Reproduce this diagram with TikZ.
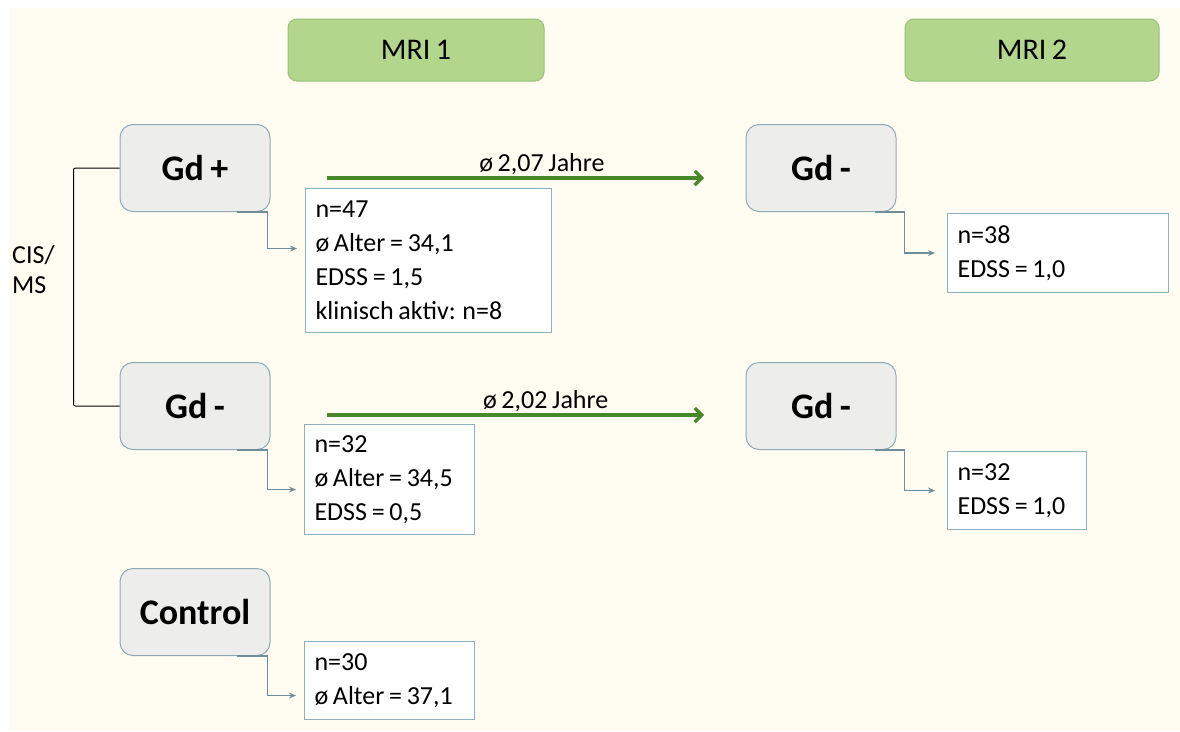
\documentclass[tikz,border=0pt]{standalone}
\usepackage{fontspec}
\setmainfont{Carlito}[WordSpace=0.8]
\usepackage{tikz}
\usetikzlibrary{arrows.meta}
\definecolor{cream}{HTML}{FFFDF2}
\definecolor{mrigreen}{HTML}{B1D68C}
\definecolor{mriedge}{HTML}{98BF78}
\definecolor{grpfill}{HTML}{EDEDEC}
\definecolor{grpedge}{HTML}{8FAAB6}
\definecolor{infoedge}{HTML}{8FB1BF}
\definecolor{connblue}{HTML}{6F8C99}
\definecolor{timegreen}{HTML}{478828}

\begin{document}
\begin{tikzpicture}[x=1pt,y=-1pt,
    txt/.style={font=\fontsize{26}{34}\selectfont},
    mri/.style={draw=mriedge,fill=mrigreen,rounded corners=9pt,line width=1pt,minimum height=62pt,font=\fontsize{30}{34}\selectfont},
    group/.style={draw=grpedge,fill=grpfill,rounded corners=13pt,line width=1pt,minimum width=150pt,minimum height=87pt,font=\fontsize{36}{40}\selectfont\bfseries},
    info/.style={draw=infoedge,fill=white,line width=1.1pt,anchor=north west,align=flush left,inner xsep=10pt,inner ysep=0pt,text width=#1,font=\fontsize{26}{34}\selectfont},
    conn/.style={draw=connblue,line width=1.5pt,-{Stealth[length=7pt,width=6pt]}},
    timeline/.style={draw=timegreen,line width=3.2pt,-{Straight Barb[length=7pt,width=14pt]}}]

    \useasboundingbox (0,0) rectangle (1180,731);
    \fill[white] (0,0) rectangle (1180,731);
    \fill[cream] (9,8) rectangle (1180,731);

    \node[mri,minimum width=256pt] (mri1) at (416,50) {MRI 1};
    \node[mri,minimum width=254pt] (mri2) at (1032,50) {MRI 2};

    \node[group] (gdplus) at (195,168) {Gd +};
    \node[group] (gdminus) at (195,406) {Gd -};
    \node[group] (control) at (195,612) {Control};
    \node[group] (gdplustwo) at (821,168) {Gd -};
    \node[group] (gdminustwo) at (821,406) {Gd -};

    \node[info=226pt,minimum height=144pt] (gdplusinfo) at (305,188) {n=47\\ø Alter = 34,1\\EDSS = 1,5\\klinisch aktiv: n=8};
    \node[info=150pt,minimum height=110pt] (gdminusinfo) at (304,424) {n=32\\ø Alter = 34,5\\EDSS = 0,5};
    \node[info=150pt,minimum height=78pt] (controlinfo) at (304,641) {n=30\\ø Alter = 37,1};
    \node[info=201pt,minimum height=79pt] (gdplustwoinfo) at (947,213) {n=38\\EDSS = 1,0};
    \node[info=119pt,minimum height=78pt] (gdminustwoinfo) at (947,451) {n=32\\EDSS = 1,0};

    \draw[conn] ([xshift=-34pt]gdplus.south east) -- ++(31,0) |- ([xshift=-8pt,yshift=12pt]gdplusinfo.west);
    \draw[conn] ([xshift=-34pt]gdminus.south east) -- ++(31,0) |- ([xshift=-8pt,yshift=-10pt]gdminusinfo.west);
    \draw[conn] ([xshift=-34pt]control.south east) -- ++(31,0) |- ([xshift=-8pt,yshift=-15pt]controlinfo.west);
    \draw[conn] ([xshift=-22pt]gdplustwo.south east) -- ++(30,0) |- ([xshift=-12pt]gdplustwoinfo.west);
    \draw[conn] ([xshift=-22pt]gdminustwo.south east) -- ++(30,0) |- ([xshift=-12pt]gdminustwoinfo.west);

    \draw[line width=1pt,rounded corners=2pt] (gdplus.west) -- ++(-46,0) |- (gdminus.west);
    \node[anchor=north west,align=left,inner sep=0pt,font=\fontsize{26}{30}\selectfont] (cis) at (12,245) {CIS/\\MS};

    \coordinate (timeastart) at (327,178);
    \coordinate (timeaend) at (704,178);
    \coordinate (timebstart) at (327,415);
    \coordinate (timebend) at (704,415);
    \draw[timeline] (timeastart) -- (timeaend) node[txt,pos=0.57,above=-2pt] {ø 2,07 Jahre};
    \draw[timeline] (timebstart) -- (timebend) node[txt,pos=0.58,above=-2pt] {ø 2,02 Jahre};
\end{tikzpicture}
\end{document}
